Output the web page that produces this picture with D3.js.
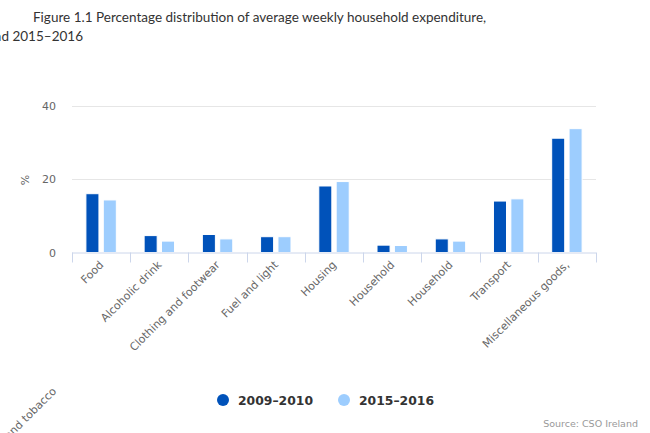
<!DOCTYPE html>
<html><head><meta charset="utf-8">
<script src="https://cdn.jsdelivr.net/npm/d3@7"></script>
<style>body{margin:0;background:#fff;}svg{display:block;font-family:"DejaVu Sans",sans-serif;}</style>
</head><body>
<svg id="c" width="650" height="433"></svg>
<script>
const categories = ["Food","Alcoholic drink","Clothing and footwear","Fuel and light","Housing","Household","Household","Transport","Miscellaneous goods,"];
const seriesNames = ["2009–2010","2015–2016"];
const values2009 = [16.0,4.6,4.9,4.3,18.1,2.0,3.7,14.0,31.1];
const values2015 = [14.3,3.1,3.7,4.3,19.3,1.9,3.1,14.6,33.7];
const yTicks = [0,20,40];
const colors = ["#0052ba","#9dcdfe"];
const titleLine1 = "Figure 1.1 Percentage distribution of average weekly household expenditure,";
const titleLine2 = "2009–2010 and 2015–2016";
const overflowLabel = "Alcoholic drink and tobacco";
const sourceText = "Source: CSO Ireland";

const svg = d3.select("#c");
const pLeft = 72, pRight = 596, pTop = 105.5, pBottom = 252.5;
const x0 = d3.scaleBand().domain(d3.range(categories.length)).range([pLeft,pRight]).padding(0);
const x1 = d3.scaleBand().domain([0,1]).range([0,x0.bandwidth()]).paddingInner(0.25).paddingOuter(0.8);
const y = d3.scaleLinear().domain([0,40]).range([pBottom,pTop]);

function fit(sel, w){ const l = sel.node().getComputedTextLength(); const fs = parseFloat(sel.attr("font-size")); sel.attr("font-size", fs*w/l); }

// title
const t1 = svg.append("text").attr("x",33).attr("y",22).attr("font-family","Lato").attr("font-size",15).attr("fill","#333").text(titleLine1);
fit(t1, 454);
svg.append("text").attr("x",83).attr("y",41).attr("text-anchor","end").attr("font-family","Lato").attr("font-size",t1.attr("font-size")).attr("fill","#333").text(titleLine2);

// grid
svg.append("g").selectAll("line").data(yTicks.filter(d=>d>0)).join("line")
  .attr("x1",pLeft).attr("x2",pRight).attr("y1",d=>Math.round(y(d))+0.5).attr("y2",d=>Math.round(y(d))+0.5)
  .attr("stroke","#e6e6e6");

// y labels
const ya = svg.append("g").attr("transform",`translate(${pLeft},0)`).call(d3.axisLeft(y).tickValues(yTicks).tickSize(0).tickPadding(16));
ya.select(".domain").remove();
ya.selectAll("text").attr("font-size",11).attr("fill","#666").attr("font-family","DejaVu Sans");
svg.append("text").attr("transform","translate(29,180) rotate(-90)").attr("text-anchor","middle").attr("font-size",11).attr("fill","#666").text("%");

// bars
const data = [values2009, values2015];
svg.append("g").selectAll("g").data(data).join("g").attr("fill",(d,i)=>colors[i])
  .each(function(vals,si){
    d3.select(this).selectAll("rect").data(vals).join("rect")
      .attr("x",(v,i)=>x0(i)+x1(si)).attr("width",x1.bandwidth())
      .attr("y",v=>y(v)).attr("height",v=>y(0)-y(v))
      .attr("stroke","#fff").attr("stroke-width",1);
  });

// x axis
svg.append("line").attr("x1",pLeft).attr("x2",pRight).attr("y1",pBottom+0.5).attr("y2",pBottom+0.5).attr("stroke","#ccd6eb");
svg.append("g").selectAll("line").data(d3.range(categories.length+1)).join("line")
  .attr("x1",i=>Math.round(pLeft+i*x0.step())+0.5).attr("x2",i=>Math.round(pLeft+i*x0.step())+0.5)
  .attr("y1",pBottom).attr("y2",pBottom+10).attr("stroke","#ccd6eb");
svg.append("g").selectAll("text").data(categories).join("text")
  .attr("transform",(d,i)=>`translate(${x0(i)+x0.bandwidth()/2+3},${pBottom+13}) rotate(-45)`)
  .attr("text-anchor","end").attr("font-size",11).attr("fill","#666").text(d=>d);
svg.append("text").attr("transform","translate(57,392) rotate(-45)").attr("text-anchor","end").attr("font-size",11).attr("fill","#666").text(overflowLabel);

// legend
const lg = svg.append("g");
const legX = [223, 344];
seriesNames.forEach((n,i)=>{
  lg.append("circle").attr("cx",legX[i]).attr("cy",400).attr("r",6).attr("fill",colors[i]);
  const t = lg.append("text").attr("x",legX[i]+15).attr("y",405).attr("font-size",13).attr("font-weight","bold").attr("fill","#333").text(n);
  fit(t, 75);
});

svg.append("text").attr("x",638).attr("y",427).attr("text-anchor","end").attr("font-size",9.5).attr("fill","#999").text(sourceText);
</script>
</body></html>
